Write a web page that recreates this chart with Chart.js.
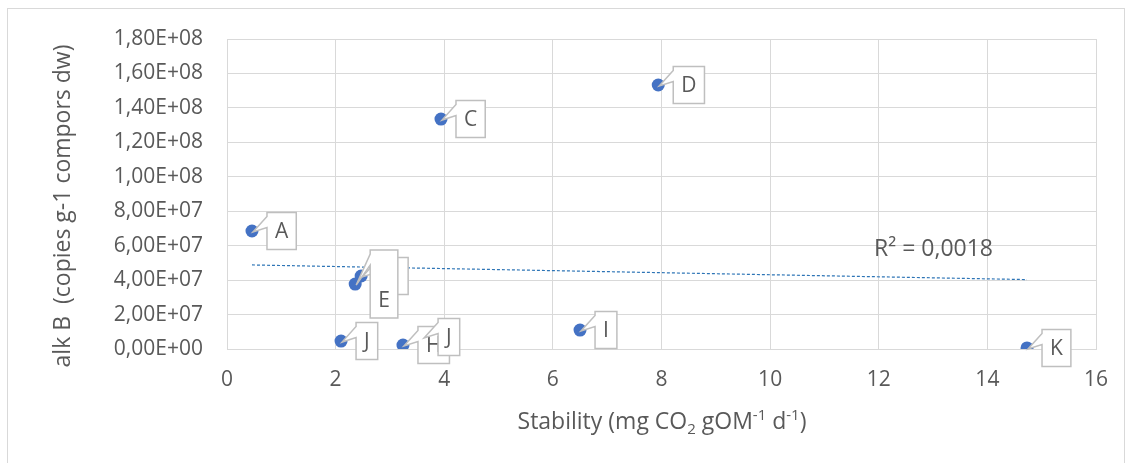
<!DOCTYPE html>
<html>
<head>
<meta charset="utf-8">
<script src="https://cdn.jsdelivr.net/npm/chart.js@4.4.1/dist/chart.umd.min.js"></script>
<style>
  body { margin: 0; background: #fff; }
  #wrap { width: 1132px; height: 463px; }
</style>
</head>
<body>
<div id="wrap"><canvas id="chart" width="1132" height="463"></canvas></div>
<script>
// data
const pointLabels = [['A'], [''], ['', 'E'], ['C'], ['D'], ['J'], ['H'], ['J'], ['I'], ['K']];
const stability = [0.46, 2.47, 2.36, 3.94, 7.94, 2.10, 3.24, 3.61, 6.50, 14.73];
const alkB = [6.85e7, 4.24e7, 3.77e7, 1.335e8, 1.533e8, 4.6e6, 2.3e6, 7.0e6, 1.1e7, 6.0e5];
// trendline end points (Excel linear trend)
const trendX = [0.46, 14.73];
const trendY = [4.88e7, 4.03e7];
const xTicks = ['0', '2', '4', '6', '8', '10', '12', '14', '16'];
const yTickLabels = ['0,00E+00', '2,00E+07', '4,00E+07', '6,00E+07', '8,00E+07',
  '1,00E+08', '1,20E+08', '1,40E+08', '1,60E+08', '1,80E+08'];
const r2Text = 'R² = 0,0018';

const FONT = '"Open Sans", Lato, sans-serif';
const GREY = '#595959';
const GRID = '#d9d9d9';

// ----------------- callouts + texts -----------------
const extras = {
  id: 'extras',
  beforeDraw(chart) {
    const ctx = chart.ctx;
    ctx.save();
    ctx.fillStyle = '#fff';
    ctx.fillRect(0, 0, chart.width, chart.height);
    ctx.strokeStyle = GRID;
    ctx.lineWidth = 1;
    ctx.strokeRect(7.5, 8.5, 1117, 460);
    ctx.restore();
  },
  afterDatasetsDraw(chart) {
    const ctx = chart.ctx;
    const xs = chart.scales.x, ys = chart.scales.y;
    ctx.save();
    ctx.font = '21px ' + FONT;
    for (let i = 0; i < stability.length; i++) {
      const dx = xs.getPixelForValue(stability[i]);
      const dy = ys.getPixelForValue(alkB[i]);
      const lines = pointLabels[i];
      let tw = Math.max(...lines.map(l => ctx.measureText(l).width));
      let w = tw > 0 ? tw + 16 : 32;
      let h = 6 + 31 * lines.length;
      let left = dx + 15, top = dy - h / 2;
      ctx.beginPath();
      ctx.moveTo(left, top);
      ctx.lineTo(left + w, top);
      ctx.lineTo(left + w, top + h);
      ctx.lineTo(left, top + h);
      ctx.lineTo(left, top + 15);
      ctx.lineTo(dx + 1, dy + 1);
      ctx.lineTo(left, top + 4);
      ctx.closePath();
      ctx.fillStyle = '#fff';
      ctx.fill();
      ctx.strokeStyle = '#bfbfbf';
      ctx.lineWidth = 1.5;
      ctx.stroke();
      ctx.fillStyle = GREY;
      ctx.textAlign = 'center';
      ctx.textBaseline = 'middle';
      lines.forEach((l, k) => ctx.fillText(l, left + w / 2, top + 4 + 31 * (k + 0.5)));
    }
    // R²
    ctx.font = '23px ' + FONT;
    ctx.textAlign = 'left';
    ctx.fillText(r2Text, 874, 249);

    // axis titles
    ctx.font = '23px ' + FONT;
    ctx.save();
    ctx.translate(63, 206);
    ctx.rotate(-Math.PI / 2);
    ctx.textAlign = 'center';
    ctx.fillText('alk B  (copies g-1 compors dw)', 0, 0);
    ctx.restore();

    const parts = [
      ['Stability (mg CO', 0], ['2', 1], [' gOM', 0], ['-1', -1], [' d', 0], ['-1', -1], [')', 0]
    ];
    const big = '23px ' + FONT, small = '15px ' + FONT;
    let total = 0;
    parts.forEach(p => { ctx.font = p[1] ? small : big; total += ctx.measureText(p[0]).width; });
    let x = 662 - total / 2;
    ctx.textAlign = 'left';
    ctx.textBaseline = 'alphabetic';
    parts.forEach(p => {
      ctx.font = p[1] ? small : big;
      ctx.fillText(p[0], x, 429 + (p[1] === 1 ? 5 : p[1] === -1 ? -9 : 0));
      x += ctx.measureText(p[0]).width;
    });
    ctx.restore();
  }
};

new Chart(document.getElementById('chart'), {
  type: 'scatter',
  data: {
    datasets: [
      {
        label: 'alk B',
        data: stability.map((v, i) => ({ x: v, y: alkB[i] })),
        backgroundColor: '#4472C4',
        borderWidth: 0,
        pointRadius: 6.5,
        order: 1
      },
      {
        type: 'line',
        label: 'trend',
        data: trendX.map((v, i) => ({ x: v, y: trendY[i] })),
        borderColor: '#2E75B6',
        borderWidth: 1.2,
        borderDash: [3, 2],
        pointRadius: 0,
        fill: false,
        order: 2
      }
    ]
  },
  options: {
    responsive: false,
    animation: false,
    layout: { padding: { top: 39, right: 36, left: 0, bottom: 0 } },
    plugins: { legend: { display: false }, tooltip: { enabled: false } },
    scales: {
      x: {
        type: 'linear',
        min: 0, max: 16,
        afterFit: s => { s.height = 114; },
        ticks: {
          stepSize: 2,
          padding: 18,
          color: GREY,
          font: { family: FONT, size: 21 },
          callback: (v) => xTicks[v / 2]
        },
        grid: { color: GRID, drawTicks: false },
        border: { color: GRID }
      },
      y: {
        min: 0, max: 1.8e8,
        afterFit: s => { s.width = 227; },
        ticks: {
          stepSize: 2e7,
          padding: 24,
          color: GREY,
          font: { family: FONT, size: 21 },
          callback: (v) => yTickLabels[Math.round(v / 2e7)]
        },
        grid: { color: GRID, drawTicks: false },
        border: { color: GRID }
      }
    }
  },
  plugins: [extras]
});
</script>
</body>
</html>
